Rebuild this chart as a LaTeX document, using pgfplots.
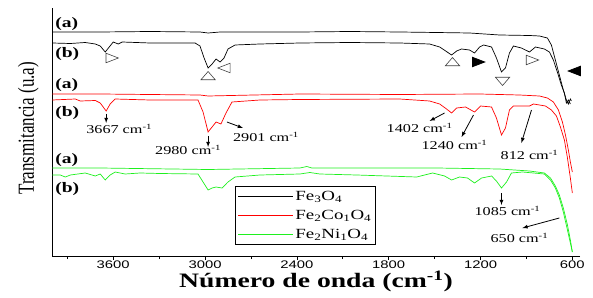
\documentclass[border=0pt]{standalone}
\usepackage{pgfplots}
\pgfplotsset{compat=1.18}
\usepackage{fontspec}
\setmainfont[FakeStretch=1.35]{Liberation Serif}
\newfontfamily\sansf[FakeStretch=1.35]{Liberation Sans}
\newfontfamily\ylabfont[FakeStretch=0.74]{Liberation Serif}
\definecolor{lime}{RGB}{30,240,30}
\begin{document}
\begin{tikzpicture}
\begin{axis}[
  scale only axis, width=528pt, height=248pt,
  x dir=reverse, xmin=550, xmax=4000, ymin=0, ymax=248,
  axis x line*=bottom, axis y line*=left,
  axis line style={line width=0.8pt},
  xtick={600,1200,1800,2400,3000,3600},
  minor xtick={900,1500,2100,2700,3300,3900},
  ytick=\empty,
  tick align=outside,
  major tick length=4pt, minor tick length=3pt,
  tick style={line width=0.7pt, black},
  /pgf/number format/assume math mode=true,
  /pgf/number format/set thousands separator={},
  xticklabel style={font=\sansf\fontsize{11}{11}\selectfont, yshift=2.5pt},
  xlabel={\textbf{Número de onda (cm\textsuperscript{-1})}},
  xlabel style={font=\fontsize{20.5}{20.5}\selectfont, at={(axis description cs:0.5,-0.103)}, anchor=center},
  ylabel={\ylabfont Transmitancia (u.a)},
  ylabel style={font=\fontsize{23}{23}\selectfont, at={(axis description cs:-0.045,0.515)}, anchor=center},
  legend style={at={(axis description cs:0.347,0.282)}, anchor=north west, draw=black, line width=0.8pt,
    font=\fontsize{14}{14}\selectfont, inner xsep=2pt, inner ysep=3pt, row sep=4pt},
  legend cell align=left,
  legend image code/.code={\draw[#1, line width=0.8pt] (0pt,0pt) -- (55pt,0pt);},
  every axis plot/.append style={line width=0.7pt},
]
% Fe3O4 (a)
\addplot[black, forget plot] coordinates {
(3998,224) (3685,224) (3359,224.5) (3033,224) (2980,223) (2902,224) (2380,224) (2054,224.5) (1728,224)
(1487,223.5) (1272,223) (1076,221) (880,220.5) (815,220) (763,218) (737,211) (711,196) (685,181)
(659,166) (639,156) (626,152) (613,157) (606,155)};
% Fe3O4 (b)
\addplot[black, forget plot] coordinates {
(3998,213) (3880,212.5) (3783,213.5) (3717,212) (3685,210) (3652,204) (3626,209) (3600,214) (3567,212)
(3541,214) (3359,213) (3065,213) (3033,210) (3006,198) (2980,188) (2954,192) (2928,197) (2902,194)
(2876,198) (2850,207) (2804,211) (2641,212) (2380,213) (2054,213.5) (1728,213) (1533,212) (1467,209)
(1428,205) (1389,201) (1356,205) (1324,207) (1272,206) (1239,203) (1206,209) (1180,211) (1128,209)
(1096,198) (1063,184) (1037,188) (1011,203) (985,210) (933,208) (880,204) (841,209) (783,207)
(750,204) (724,196) (698,184) (672,171) (652,163) (639,153) (626,156) (613,152)};
% Fe2Co1O4 (a)
\addplot[red, forget plot] coordinates {
(3998,162) (3685,162) (3033,161) (2980,160) (2380,162) (1728,161.5) (1206,162) (946,161) (815,160)
(763,158) (724,154) (691,146) (665,134) (645,121) (626,106) (613,94) (600,84)};
% Fe2Co1O4 (b)
\addplot[red, forget plot] coordinates {
(3998,156) (3848,157) (3815,155) (3717,155.5) (3685,153) (3646,145) (3620,152) (3587,157) (3359,156)
(3046,156) (3013,144) (2980,124) (2954,129) (2928,134) (2896,132) (2863,143) (2824,154) (2641,156)
(2380,156.5) (1728,157) (1533,155) (1467,152) (1422,147) (1389,143) (1356,148) (1298,149) (1239,144)
(1200,150) (1128,149) (1096,138) (1063,121) (1037,128) (1011,146) (985,150) (926,150) (880,150)
(854,152) (815,151) (776,150) (737,146) (704,140) (678,129) (652,116) (632,98) (613,78) (600,63)};
% Fe2Ni1O4 (a)
\addplot[lime, forget plot] coordinates {
(3998,88) (3685,88) (2980,86.5) (2380,88) (2335,89.5) (2302,88) (1728,88) (1487,88) (1076,87)
(880,85) (783,83) (743,78) (711,70) (685,61) (659,48) (632,31) (613,16) (600,4)};
% Fe2Ni1O4 (b)
\addplot[lime, forget plot] coordinates {
(3998,81) (3946,81) (3913,79) (3880,81) (3783,83) (3717,80) (3685,82) (3652,76) (3620,81) (3587,84)
(3522,82) (3424,83) (3293,82.5) (3046,82) (3013,74) (2980,66) (2954,68) (2928,69) (2889,68) (2850,74)
(2804,79) (2641,81) (2380,82) (2315,83.5) (2250,82) (2009,81) (1617,79) (1513,83) (1435,80) (1389,76)
(1337,79) (1285,78) (1239,73) (1193,78) (1128,80) (1096,75) (1063,68) (1030,74) (998,83) (926,84)
(783,82) (743,76) (711,68) (685,58) (659,44) (632,26) (613,13) (600,4)};
% triangles
\addplot[only marks, forget plot, mark=triangle, mark size=5.5pt, mark options={black!75, line width=0.6pt, xscale=1.5, rotate=-90}] coordinates {(3620,198) (874,196)};
\addplot[only marks, forget plot, mark=triangle, mark size=5.5pt, mark options={black!75, line width=0.6pt, xscale=1.5}] coordinates {(2980,179) (1383,193)};
\addplot[only marks, forget plot, mark=triangle, mark size=5.5pt, mark options={black!75, line width=0.6pt, xscale=1.5, rotate=90}] coordinates {(2863,188)};
\addplot[only marks, forget plot, mark=triangle, mark size=5.5pt, mark options={black!75, line width=0.6pt, xscale=1.5, rotate=180}] coordinates {(1056,176)};
\addplot[only marks, forget plot, mark=triangle*, mark size=5.5pt, mark options={black, xscale=1.5, rotate=-90}] coordinates {(1226,194)};
\addplot[only marks, forget plot, mark=triangle*, mark size=5.5pt, mark options={black, xscale=1.5, rotate=90}] coordinates {(574,185)};
% legend
\addlegendimage{black}\addlegendentry{Fe\textsubscript{3}O\textsubscript{4}}
\addlegendimage{red}\addlegendentry{Fe\textsubscript{2}Co\textsubscript{1}O\textsubscript{4}}
\addlegendimage{lime}\addlegendentry{Fe\textsubscript{2}Ni\textsubscript{1}O\textsubscript{4}}
% (a)/(b) labels
\begin{scope}[every node/.style={font=\bfseries\fontsize{14.5}{14.5}\selectfont, anchor=west, inner sep=0pt}]
\node at (axis cs:3980,232) {(a)};
\node at (axis cs:3980,202) {(b)};
\node at (axis cs:3980,171) {(a)};
\node at (axis cs:3980,143) {(b)};
\node at (axis cs:3980,96) {(a)};
\node at (axis cs:3980,67) {(b)};
\end{scope}
% annotations
\begin{scope}[every node/.style={font=\fontsize{12}{12}\selectfont, inner sep=0pt}]
\node at (axis cs:3561,127) {3667 cm\textsuperscript{-1}};
\node at (axis cs:3111,106) {2980 cm\textsuperscript{-1}};
\node at (axis cs:2602,119) {2901 cm\textsuperscript{-1}};
\node at (axis cs:1598,128) {1402 cm\textsuperscript{-1}};
\node at (axis cs:1370,111) {1240 cm\textsuperscript{-1}};
\node at (axis cs:880,101) {812 cm\textsuperscript{-1}};
\node at (axis cs:1024,45) {1085 cm\textsuperscript{-1}};
\node at (axis cs:946,18) {650 cm\textsuperscript{-1}};
\end{scope}
\begin{scope}[-latex, line width=0.8pt]
\draw (axis cs:3646,142) -- (axis cs:3646,133);
\draw (axis cs:2980,120) -- (axis cs:2980,109);
\draw (axis cs:2857,134) -- (axis cs:2752,128);
\draw (axis cs:1435,143) -- (axis cs:1533,135);
\draw (axis cs:1246,141) -- (axis cs:1324,119);
\draw (axis cs:867,146) -- (axis cs:933,113);
\draw (axis cs:1063,63) -- (axis cs:1063,51);
\draw (axis cs:685,38) -- (axis cs:926,28);
\end{scope}
\end{axis}
\pgfresetboundingbox
\path (current axis.south west) ++(-52pt,-41pt) rectangle ++(593pt,297pt);
\end{tikzpicture}
\end{document}
